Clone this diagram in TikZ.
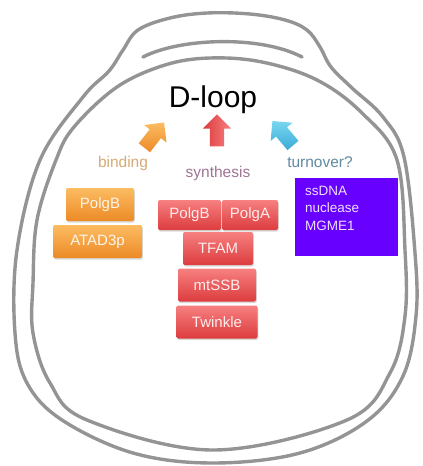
\documentclass[tikz,border=0pt]{standalone}
\usepackage{fontspec}
\setmainfont{Liberation Sans}
\usetikzlibrary{shapes.arrows, shadows, positioning}
\definecolor{RingGray}{RGB}{148,148,148}
\definecolor{BindTop}{RGB}{252,188,98}
\definecolor{BindBot}{RGB}{236,138,38}
\definecolor{SynTop}{RGB}{247,128,128}
\definecolor{SynBot}{RGB}{220,60,62}
\definecolor{TurnTop}{RGB}{120,215,240}
\definecolor{TurnBot}{RGB}{60,170,215}
\definecolor{NucPurple}{RGB}{104,0,255}
\definecolor{BindText}{RGB}{214,170,116}
\definecolor{SynText}{RGB}{158,116,148}
\definecolor{TurnText}{RGB}{96,138,160}

\tikzset{
    ring/.style={draw=RingGray, line width=3.4pt, line join=round, line cap=round},
    protein/.style={rounded corners=2pt, minimum height=33pt, inner sep=0pt,
        font=\fontsize{15}{15}\selectfont,
        drop shadow={shadow xshift=0.8pt, shadow yshift=-1.6pt, opacity=0.3}},
    bindbox/.style={protein, top color=BindTop, bottom color=BindBot, text=white!85!BindTop},
    synbox/.style={protein, top color=SynTop, bottom color=SynBot, text=white!85!SynTop},
    blockarrow/.style={single arrow, inner xsep=0pt, inner ysep=7pt, minimum height=32pt,
        single arrow head extend=7pt, single arrow head indent=0pt},
    stage/.style={anchor=base, font=\fontsize{15.5}{15.5}\selectfont}
}

\begin{document}
\begin{tikzpicture}[x=1pt, y=-1pt]
    \useasboundingbox (0,0) rectangle (423,466);

    % mitochondrion outline
    \draw[ring] plot[smooth cycle, tension=0.6] coordinates {
        (207,13) (250,14) (285,20) (307,30) (320,47) (331,67) (352,88) (383,117)
        (404,157) (415,253) (416,316) (403,376) (367,421) (300,453) (213,463)
        (133,453) (62,420) (27,383) (15,333) (17,250) (40,160) (83,97)
        (109,71) (123,50) (138,30) (170,18)};
    \draw[ring] (143,57) .. controls (180,38) and (260,35) .. (302,57);
    \draw[ring] plot[smooth cycle, tension=0.6] coordinates {
        (210,58) (262,62) (317,80) (362,113) (397,160) (405,250) (405,316)
        (390,373) (347,420) (213,450) (87,420) (50,383) (33,333) (33,283)
        (37,220) (56,160) (74,127) (117,87) (165,65)};

    \node[anchor=base, font=\fontsize{30}{30}\selectfont] (dloop) at (213,107) {D-loop};

    \node[blockarrow, rotate=52, top color=BindTop, bottom color=BindBot] (bindarrow) at (152,138) {};
    \node[blockarrow, rotate=90, left color=SynBot, right color=SynTop] (synarrow) at (217,134) {};
    \node[blockarrow, rotate=130, top color=TurnTop, bottom color=TurnBot] (turnarrow) at (285,136) {};

    \node[stage, text=BindText] (binding) at (123,167) {binding};
    \node[stage, text=SynText] (synthesis) at (218,177) {synthesis};
    \node[stage, text=TurnText] (turnover) at (320,167) {turnover?};

    \node[bindbox, minimum width=68pt] (bpolgb) at (100,204.5) {PolgB};
    \node[bindbox, minimum width=89pt] (atad) at (97.5,241.5) {ATAD3p};

    \node[synbox, minimum width=63pt, minimum height=30pt] (spolgb) at (189.5,215) {PolgB};
    \node[synbox, minimum width=56pt, minimum height=30pt] (spolga) at (250,215) {PolgA};
    \node[synbox, minimum width=70pt] (tfam) at (218,248.5) {TFAM};
    \node[synbox, minimum width=78pt] (mtssb) at (217,285) {mtSSB};
    \node[synbox, minimum width=81pt] (twinkle) at (217,322) {Twinkle};

    \node[fill=NucPurple, minimum width=103pt, minimum height=78pt, inner sep=0pt,
        anchor=north west] (nuc) at (295,178) {};
    \node[anchor=north west, align=left, inner sep=0pt, text=white!88!NucPurple,
        font=\fontsize{13.5}{17.5}\selectfont] (nuctext) at ([shift={(10,8)}]nuc.north west)
        {ssDNA\\nuclease\\MGME1};
\end{tikzpicture}
\end{document}
